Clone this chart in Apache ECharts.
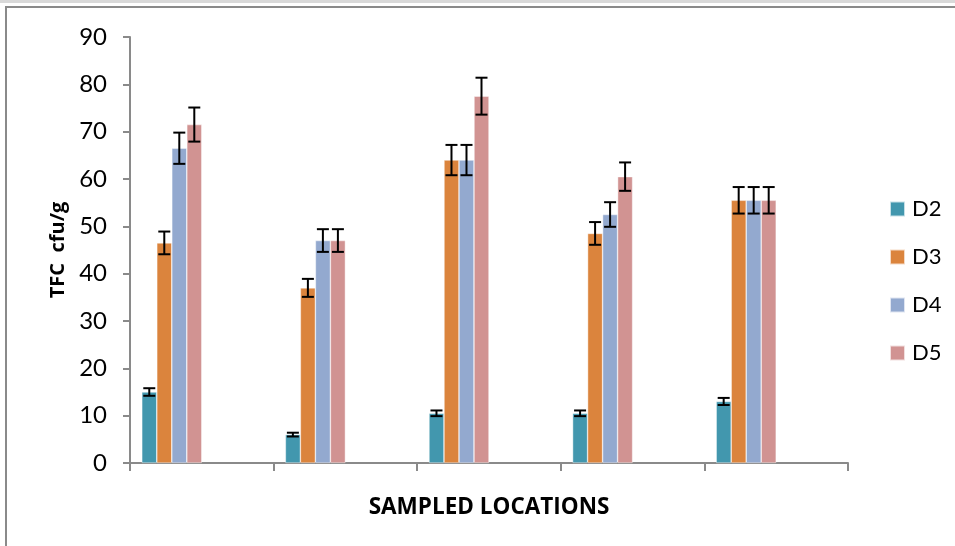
<!DOCTYPE html>
<html>
<head>
<meta charset="utf-8">
<script src="https://cdn.jsdelivr.net/npm/echarts@6/dist/echarts.min.js"></script>
<style>html,body{margin:0;padding:0;background:#fff;}#c{width:955px;height:546px;}</style>
</head>
<body>
<div id="c"></div>
<script>
const categories = ['L1', 'L2', 'L3', 'L4', 'L5'];
const seriesNames = ['D2', 'D3', 'D4', 'D5'];
const D2 = [15, 6, 10.5, 10.5, 13];
const D3 = [46.5, 37, 64, 48.5, 55.5];
const D4 = [66.5, 47, 64, 52.5, 55.5];
const D5 = [71.5, 47, 77.5, 60.5, 55.5];
const D2err = [0.8, 0.4, 0.6, 0.6, 0.75];
const D3err = [2.4, 1.9, 3.2, 2.4, 2.8];
const D4err = [3.3, 2.4, 3.2, 2.6, 2.8];
const D5err = [3.6, 2.4, 3.9, 3.0, 2.8];
const yTicks = [0, 10, 20, 30, 40, 50, 60, 70, 80, 90];

const values = [D2, D3, D4, D5];
const errs = [D2err, D3err, D4err, D5err];
const colors = ['#4297AE', '#DB843D', '#93A9CF', '#D19392'];
const totalSlots = 8;          // Excel chart keeps 8 series slots (4 empty)
const catGap = 0.164;

const font = 'Lato, "Open Sans", sans-serif';
const titleFont = '"Open Sans", Lato, sans-serif';

const series = [];
values.forEach((v, i) => {
  series.push({
    name: seriesNames[i], type: 'bar', data: v,
    barGap: '0%', barCategoryGap: (catGap * 100) + '%',
    itemStyle: { color: colors[i], borderColor: 'rgba(255,255,255,0.7)', borderWidth: 0.6 },
    emphasis: { disabled: true }
  });
});
for (let k = values.length; k < totalSlots; k++) {
  series.push({ name: 'empty' + k, type: 'bar', data: categories.map(() => '-'),
    barGap: '0%', barCategoryGap: (catGap * 100) + '%' });
}
values.forEach((v, i) => {
  series.push({
    type: 'custom', name: 'err' + i, z: 10, silent: true,
    data: v.map((val, j) => [j, val, errs[i][j]]),
    renderItem: function (params, api) {
      const c = api.coord([api.value(0), api.value(1)]);
      const catW = api.size([1, 0])[0];
      const w = catW * (1 - catGap) / totalSlots;
      const x = c[0] - totalSlots / 2 * w + (i + 0.5) * w;
      const hi = api.coord([api.value(0), api.value(1) + api.value(2)])[1];
      const lo = api.coord([api.value(0), api.value(1) - api.value(2)])[1];
      const cap = 6;
      const st = { stroke: '#000', lineWidth: 2 };
      return { type: 'group', children: [
        { type: 'line', shape: { x1: x, y1: hi, x2: x, y2: lo }, style: st },
        { type: 'line', shape: { x1: x - cap, y1: hi, x2: x + cap, y2: hi }, style: st },
        { type: 'line', shape: { x1: x - cap, y1: lo, x2: x + cap, y2: lo }, style: st }
      ]};
    }
  });
});

const chart = echarts.init(document.getElementById('c'), null, { renderer: 'canvas' });
chart.setOption({
  animation: false,
  backgroundColor: '#fff',
  grid: { left: 130, right: 107, top: 37, bottom: 83, containLabel: false },
  graphic: [
    { type: 'rect', shape: { x: 0, y: 0, width: 955, height: 3 }, style: { fill: '#d9d9d9' }, silent: true },
    { type: 'line', shape: { x1: 5, y1: 7, x2: 955, y2: 7 }, style: { stroke: '#8a8a8a', lineWidth: 2 }, silent: true },
    { type: 'line', shape: { x1: 6, y1: 7, x2: 6, y2: 546 }, style: { stroke: '#8a8a8a', lineWidth: 2 }, silent: true }
  ],
  legend: {
    data: seriesNames, orient: 'vertical', left: 889, top: 198, padding: 0,
    itemWidth: 15, itemHeight: 15, itemGap: 26, icon: 'rect',
    textStyle: { fontFamily: font, fontSize: 22, color: '#000', padding: [0, 0, 0, 2] },
    selectedMode: false
  },
  xAxis: {
    type: 'category', data: categories,
    name: 'SAMPLED LOCATIONS', nameLocation: 'middle', nameGap: 33,
    nameTextStyle: { fontFamily: titleFont, fontSize: 22.5, fontWeight: 'bold', color: '#000' },
    axisLine: { lineStyle: { color: '#8a8a8a', width: 2 } },
    axisTick: { show: true, length: 8, lineStyle: { color: '#8a8a8a', width: 2 } },
    axisLabel: { show: false },
    splitLine: { show: false }
  },
  yAxis: {
    type: 'value', min: 0, max: 90, interval: 10,
    name: 'TFC  cfu/g', nameLocation: 'middle', nameGap: 60,
    nameTextStyle: { fontFamily: titleFont, fontSize: 20, fontWeight: 'bold', color: '#000' },
    axisLine: { show: true, lineStyle: { color: '#8a8a8a', width: 2 } },
    axisTick: { show: true, length: 7, lineStyle: { color: '#8a8a8a', width: 2 } },
    axisLabel: { fontFamily: font, fontSize: 24, color: '#000', margin: 23,
      formatter: v => yTicks.includes(v) ? String(v) : '' },
    splitLine: { show: false }
  },
  series: series
});
</script>
</body>
</html>
